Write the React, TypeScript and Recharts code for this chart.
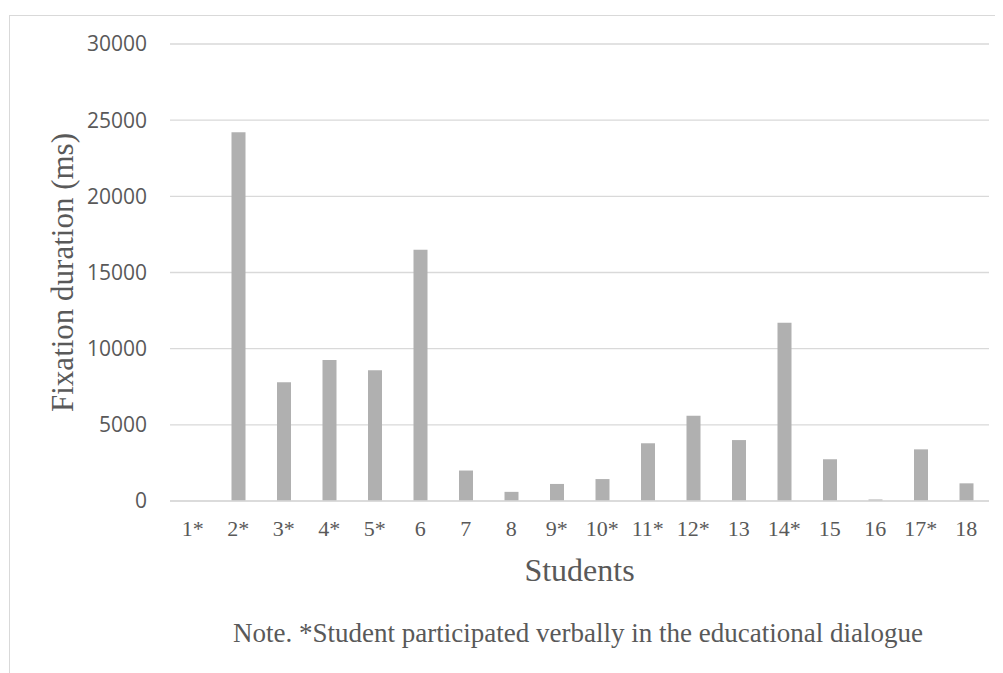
import React from "react";
import { BarChart, Bar, XAxis, YAxis, CartesianGrid, Label } from "recharts";

const students = ["1*", "2*", "3*", "4*", "5*", "6", "7", "8", "9*", "10*", "11*", "12*", "13", "14*", "15", "16", "17*", "18"];
const fixationMs = [0, 24200, 7800, 9250, 8580, 16500, 2000, 600, 1120, 1440, 3790, 5600, 4000, 11700, 2740, 100, 3390, 1160];
const yTicks = [0, 5000, 10000, 15000, 20000, 25000, 30000];

const data = students.map((name, i) => ({ name, value: fixationMs[i] }));

const serif = "'Liberation Serif', 'Times New Roman', serif";
const textGray = "#595959";
const lineGray = "#d9d9d9";

const App: React.FC = () => {
  return (
    <div style={{ position: "relative", width: 995, height: 665, overflow: "hidden", background: "#fff" }}>
      {/* chart frame: only top and left edges show in the crop */}
      <div
        style={{
          position: "absolute",
          left: 1,
          top: 7,
          width: 1100,
          height: 800,
          borderTop: `1px solid ${lineGray}`,
          borderLeft: `1px solid ${lineGray}`,
        }}
      />
      <div style={{ position: "absolute", left: 0, top: 0 }}>
        <BarChart
          width={995}
          height={665}
          data={data}
          margin={{ top: 36, right: 14, bottom: 132, left: 20 }}
          barSize={14}
        >
          <CartesianGrid vertical={false} stroke={lineGray} strokeWidth={1.3} />
          <XAxis
            dataKey="name"
            height={40}
            axisLine={{ stroke: lineGray, strokeWidth: 1.3 }}
            tickLine={false}
            tickSize={0}
            tickMargin={19}
            interval={0}
            tick={{ fill: textGray, fontFamily: serif, fontSize: 22 }}
          >
            <Label
              value="Students"
              position="bottom"
              offset={17}
              style={{ fill: textGray, fontFamily: serif, fontSize: 32 }}
            />
          </XAxis>
          <YAxis
            width={142}
            domain={[0, 30000]}
            ticks={yTicks}
            axisLine={false}
            tickLine={false}
            tickSize={0}
            tickMargin={23}
            tick={{ fill: textGray, fontFamily: "'Open Sans', sans-serif", fontSize: 21 }}
          >
            <Label
              value="Fixation duration (ms)"
              angle={-90}
              position="insideLeft"
              offset={34}
              style={{ fill: textGray, fontFamily: serif, fontSize: 31, textAnchor: "middle" }}
            />
          </YAxis>
          <Bar dataKey="value" fill="#b0b0b0" isAnimationActive={false} />
        </BarChart>
      </div>
      <div
        style={{
          position: "absolute",
          left: 570,
          top: 625,
          transform: "translate(-50%, -50%)",
          whiteSpace: "nowrap",
          fontFamily: serif,
          fontSize: 27,
          color: textGray,
        }}
      >
        Note. *Student participated verbally in the educational dialogue
      </div>
    </div>
  );
};

export default App;
